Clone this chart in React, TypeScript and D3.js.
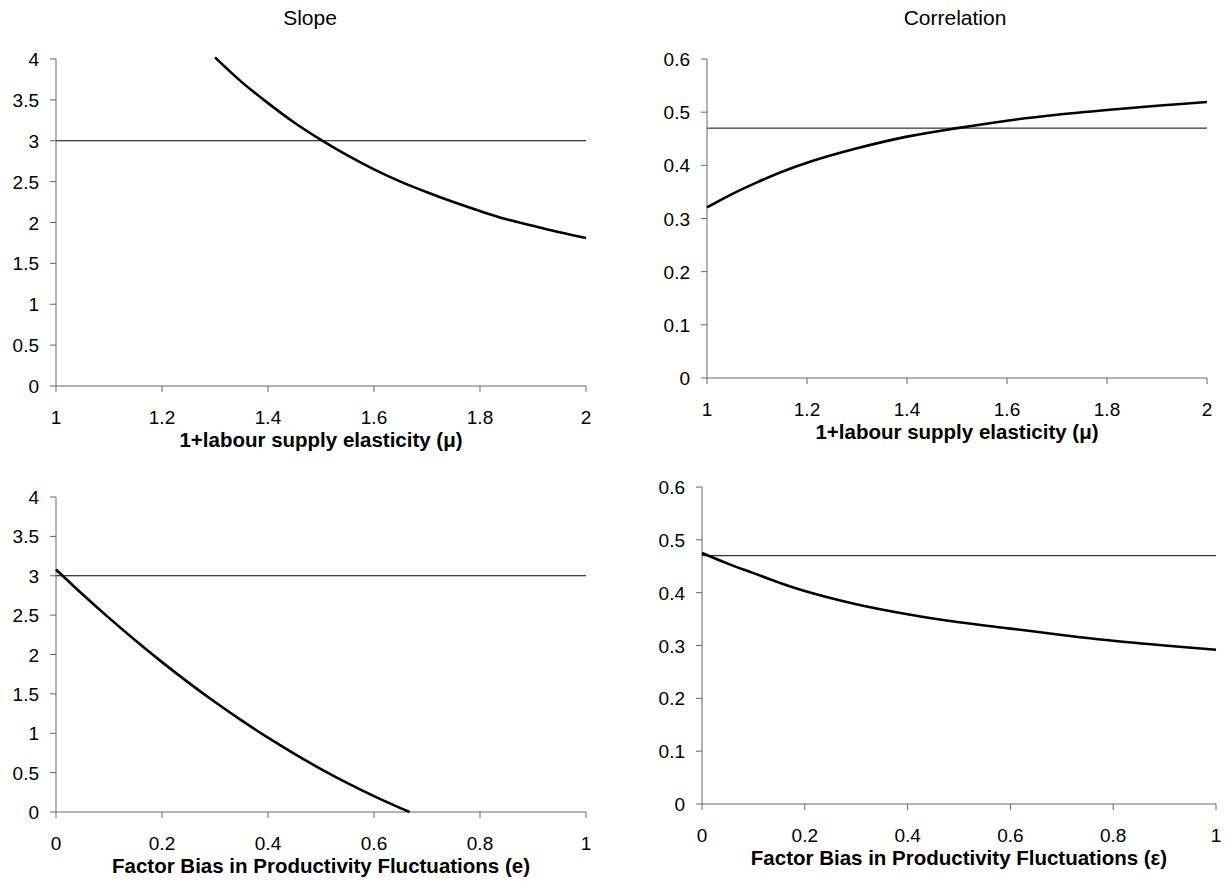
import React from "react";
import * as d3 from "d3";

// ---- Data ----
const slopeMuX = [1.3, 1.35, 1.4, 1.45, 1.5, 1.55, 1.6, 1.65, 1.7, 1.75, 1.8, 1.85, 1.9, 1.95, 2.0];
const slopeMuY = [4.02, 3.72, 3.46, 3.22, 3.01, 2.82, 2.65, 2.5, 2.37, 2.25, 2.14, 2.04, 1.96, 1.88, 1.81];

const corrMuX = [1.0, 1.05, 1.1, 1.15, 1.2, 1.3, 1.4, 1.5, 1.6, 1.7, 1.8, 1.9, 2.0];
const corrMuY = [0.321, 0.346, 0.368, 0.388, 0.405, 0.432, 0.454, 0.47, 0.484, 0.495, 0.504, 0.512, 0.519];

const slopeEpsX = [0, 0.05, 0.1, 0.15, 0.2, 0.25, 0.3, 0.35, 0.4, 0.45, 0.5, 0.55, 0.6, 0.65, 0.667];
const slopeEpsY = [3.08, 2.765, 2.465, 2.177, 1.903, 1.643, 1.396, 1.163, 0.944, 0.738, 0.545, 0.366, 0.201, 0.049, 0.0];

const corrEpsX = [0, 0.05, 0.1, 0.15, 0.2, 0.3, 0.4, 0.5, 0.6, 0.7, 0.8, 0.9, 1.0];
const corrEpsY = [0.475, 0.455, 0.437, 0.419, 0.403, 0.378, 0.359, 0.344, 0.332, 0.32, 0.309, 0.3, 0.292];

const slopeTarget = 3;
const corrTarget = 0.47;

const muTicks = [1, 1.2, 1.4, 1.6, 1.8, 2];
const epsTicks = [0, 0.2, 0.4, 0.6, 0.8, 1];
const slopeTicks = [0, 0.5, 1, 1.5, 2, 2.5, 3, 3.5, 4];
const corrTicks = [0, 0.1, 0.2, 0.3, 0.4, 0.5, 0.6];

const titles = ["Slope", "Correlation"];
const xLabelMu = "1+labour supply elasticity (\u03bc)";
const xLabelE = "Factor Bias in Productivity Fluctuations (e)";
const xLabelEps = "Factor Bias in Productivity Fluctuations (\u03b5)";

const FONT = "'Liberation Sans', Arial, Helvetica, sans-serif";

type PanelProps = {
  x0: number; x1: number; y0: number; y1: number;
  xDomain: [number, number]; yDomain: [number, number];
  xTicks: number[]; yTicks: number[];
  xs: number[]; ys: number[];
  target: number;
  xLabel: string;
};

function Panel(p: PanelProps) {
  const x = d3.scaleLinear().domain(p.xDomain).range([p.x0, p.x1]);
  const y = d3.scaleLinear().domain(p.yDomain).range([p.y0, p.y1]);
  const pts: [number, number][] = p.xs.map((v, i) => [v, p.ys[i]]);
  const line = d3
    .line<[number, number]>()
    .x((d) => x(d[0]))
    .y((d) => y(d[1]))
    .curve(d3.curveCatmullRom);
  const axisColor = "#666";
  return (
    <g>
      <line x1={x(p.xDomain[0])} x2={x(p.xDomain[1])} y1={y(p.target)} y2={y(p.target)} stroke="#000" strokeWidth={1} />
      <line x1={p.x0} x2={p.x0} y1={p.y0} y2={p.y1} stroke={axisColor} strokeWidth={1} />
      {p.yTicks.map((t) => (
        <g key={"y" + t}>
          <line x1={p.x0 - 6} x2={p.x0} y1={y(t)} y2={y(t)} stroke={axisColor} strokeWidth={1} />
          <text x={p.x0 - 17} y={y(t) + 7} textAnchor="end" fontSize={19} fontFamily={FONT} fill="#000">
            {String(t)}
          </text>
        </g>
      ))}
      <line x1={p.x0} x2={p.x1} y1={p.y0} y2={p.y0} stroke={axisColor} strokeWidth={1} />
      {p.xTicks.map((t) => (
        <g key={"x" + t}>
          <line x1={x(t)} x2={x(t)} y1={p.y0} y2={p.y0 + 6} stroke={axisColor} strokeWidth={1} />
          <text x={x(t)} y={p.y0 + 38} textAnchor="middle" fontSize={19} fontFamily={FONT} fill="#000">
            {String(t)}
          </text>
        </g>
      ))}
      <text x={(p.x0 + p.x1) / 2} y={p.y0 + 61} textAnchor="middle" fontSize={20.5} fontWeight="bold" fontFamily={FONT} fill="#000">
        {p.xLabel}
      </text>
      <path d={line(pts) || ""} fill="none" stroke="#000" strokeWidth={2.6} />
    </g>
  );
}

export default function App() {
  return (
    <svg width={1225} height={884} style={{ position: "absolute", left: 0, top: 0, background: "#fff" }}>
      <rect width={1225} height={884} fill="#fff" />
      <text x={310} y={25} textAnchor="middle" fontSize={21} fontFamily={FONT} fill="#000">{titles[0]}</text>
      <text x={955} y={25} textAnchor="middle" fontSize={21} fontFamily={FONT} fill="#000">{titles[1]}</text>
      <Panel x0={56} x1={586} y0={386} y1={59} xDomain={[1, 2]} yDomain={[0, 4]}
        xTicks={muTicks} yTicks={slopeTicks} xs={slopeMuX} ys={slopeMuY} target={slopeTarget}
        xLabel={xLabelMu} />
      <Panel x0={707} x1={1207} y0={378} y1={59} xDomain={[1, 2]} yDomain={[0, 0.6]}
        xTicks={muTicks} yTicks={corrTicks} xs={corrMuX} ys={corrMuY} target={corrTarget}
        xLabel={xLabelMu} />
      <Panel x0={56} x1={586} y0={812} y1={497} xDomain={[0, 1]} yDomain={[0, 4]}
        xTicks={epsTicks} yTicks={slopeTicks} xs={slopeEpsX} ys={slopeEpsY} target={slopeTarget}
        xLabel={xLabelE} />
      <Panel x0={702} x1={1216} y0={804} y1={487} xDomain={[0, 1]} yDomain={[0, 0.6]}
        xTicks={epsTicks} yTicks={corrTicks} xs={corrEpsX} ys={corrEpsY} target={corrTarget}
        xLabel={xLabelEps} />
    </svg>
  );
}
